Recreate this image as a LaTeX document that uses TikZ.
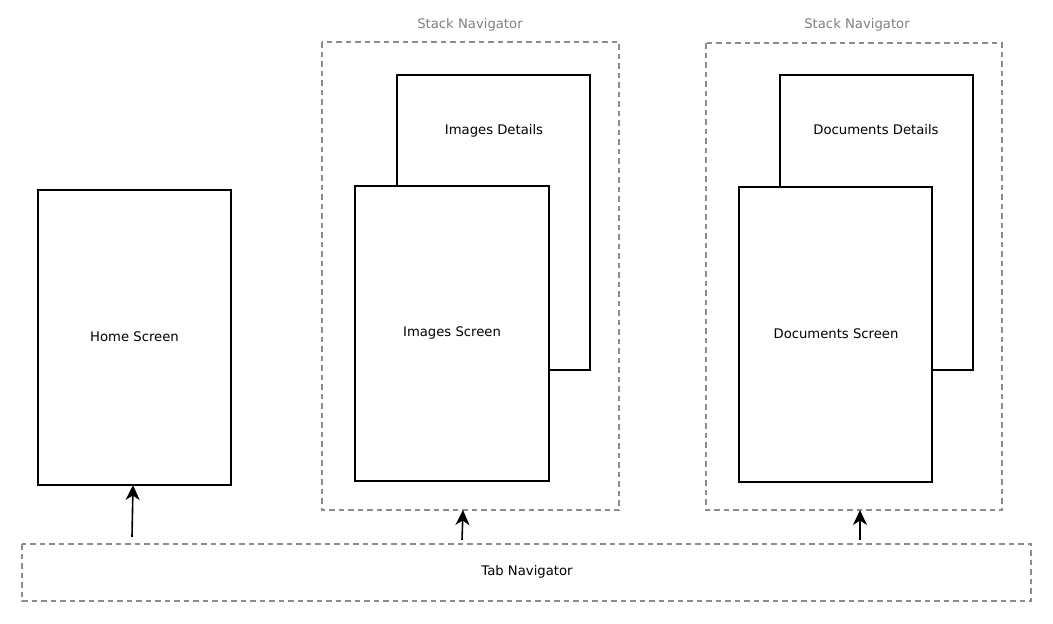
\documentclass[tikz,border=0pt]{standalone}
\usepackage{fontspec}
\setmainfont{DejaVu Sans}
\usetikzlibrary{arrows.meta}
\begin{document}
\begin{tikzpicture}[x=1pt,y=-1pt,
  screen/.style={draw=black,line width=1.6pt,fill=white},
  navbox/.style={draw=black!45,line width=1.6pt,dash pattern=on 5.5pt off 4pt},
  lbl/.style={font=\fontsize{13.2}{15}\selectfont,inner sep=0pt},
  navlbl/.style={font=\fontsize{13.2}{15}\selectfont,text=black!50,inner sep=0pt},
  conn/.style={draw=black,line width=1.6pt,-{Stealth[length=15pt,width=14pt,inset=4.5pt]}}]
\useasboundingbox (0,0) rectangle (1053,624);
% Stack navigators
\draw[navbox] (322,42) rectangle (619,510);
\coordinate (s1b) at (463,510);
\node[navlbl] (s1l) at (470,25) {Stack Navigator};
\draw[navbox] (706,43) rectangle (1002,510);
\coordinate (s2b) at (860,510);
\node[navlbl] (s2l) at (857,25) {Stack Navigator};
% Tab navigator
\draw[navbox] (22,544) rectangle (1031,601);
\node[lbl] (tab) at (527,572) {Tab Navigator};
% Home
\draw[screen] (38,190) rectangle (231,485);
\node[lbl] (home) at (134.5,337) {Home Screen};
\coordinate (homeb) at (133,485);
% Images
\draw[screen] (397,75) rectangle (590,370);
\node[lbl] (imgd) at (494,131) {Images Details};
\draw[screen] (355,186) rectangle (549,481);
\node[lbl] (imgs) at (452,333) {Images Screen};
% Documents
\draw[screen] (780,75) rectangle (973,370);
\node[lbl] (docd) at (876,130) {Documents Details};
\draw[screen] (739,187) rectangle (932,482);
\node[lbl] (docs) at (836,334) {Documents Screen};
% connectors
\coordinate (t1) at (132,537);
\coordinate (t2) at (462,540);
\coordinate (t3) at (860,540);
\draw[conn] (t1) -- (homeb);
\draw[conn] (t2) -- (s1b);
\draw[conn] (t3) -- (s2b);
\end{tikzpicture}
\end{document}
